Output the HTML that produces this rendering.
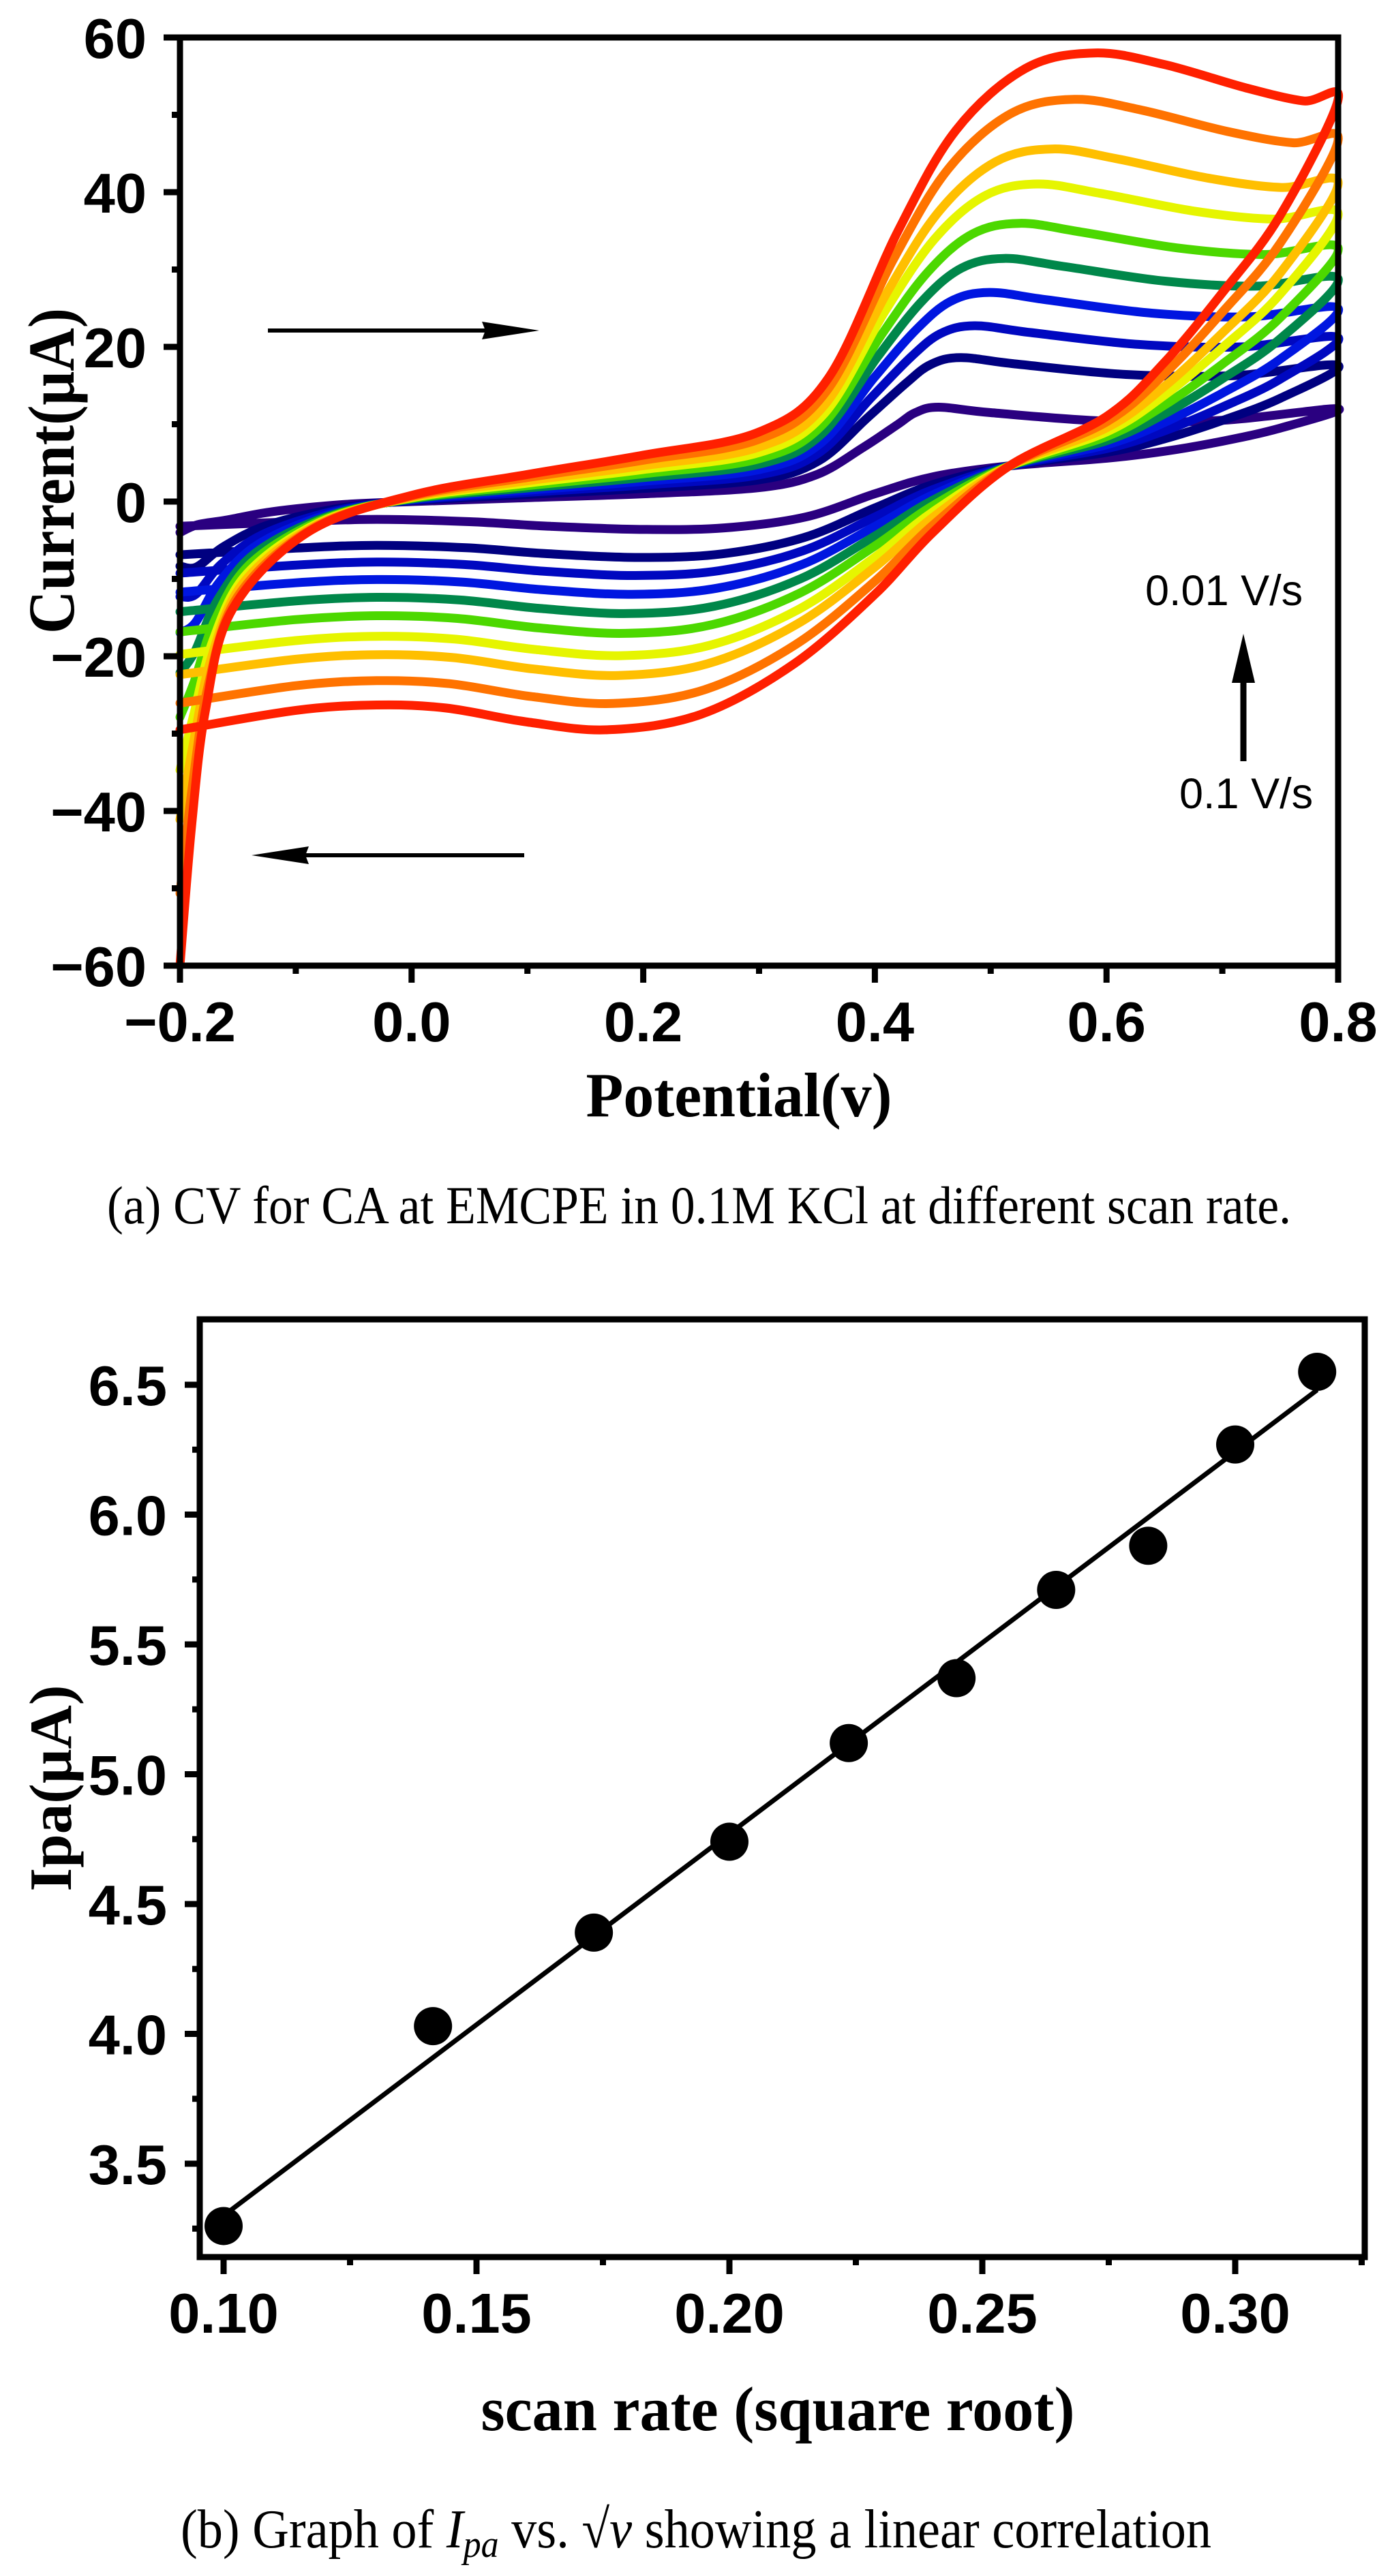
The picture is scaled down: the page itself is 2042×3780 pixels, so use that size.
<!DOCTYPE html>
<html><head><meta charset="utf-8"><style>
html,body{margin:0;padding:0;background:#fff;}
svg{display:block;}
</style></head><body>
<svg id="s" xmlns="http://www.w3.org/2000/svg" width="2042" height="3780" viewBox="0 0 2042 3780">
<rect width="2042" height="3780" fill="#fff"/>
<g id="curves" fill="none" stroke-width="13" stroke-linejoin="round" stroke-linecap="round"></g>
<g id="axA" stroke="#000" stroke-width="9" fill="none"></g>
<g id="lblA" font-family="Liberation Sans, Arial, sans-serif" font-weight="bold" font-size="83" fill="#000"></g>

<!-- arrows plot a -->
<g fill="#000" stroke="#000">
<line x1="393" y1="485" x2="720" y2="485" stroke-width="6"/>
<polygon points="791,485 707,472 712,485 707,498" stroke="none"/>
<line x1="769" y1="1255" x2="440" y2="1255" stroke-width="6"/>
<polygon points="369,1255 453,1242 448,1255 453,1268" stroke="none"/>
<line x1="1824" y1="1117" x2="1824" y2="995" stroke-width="9"/>
<polygon points="1824,930 1807,1002 1841,1002" stroke="none"/>
</g>
<g font-family="Liberation Sans, Arial, sans-serif" font-size="63" fill="#000">
<text x="1680" y="888">0.01 V/s</text>
<text x="1730" y="1186">0.1 V/s</text>
</g>
<text x="1084" y="1638" text-anchor="middle" font-family="Liberation Serif, serif" font-weight="bold" font-size="92" textLength="449" lengthAdjust="spacingAndGlyphs">Potential(v)</text>
<text transform="translate(108,691) rotate(-90)" text-anchor="middle" font-family="Liberation Serif, serif" font-weight="bold" font-size="96" textLength="478" lengthAdjust="spacingAndGlyphs">Current(μA)</text>
<text x="157" y="1795" font-family="Liberation Serif, serif" font-size="78" textLength="1737" lengthAdjust="spacingAndGlyphs">(a)  CV for CA at EMCPE in 0.1M KCl at different scan rate.</text>

<!-- plot b -->
<g id="axB" stroke="#000" stroke-width="9" fill="none"></g>
<g id="lblB" font-family="Liberation Sans, Arial, sans-serif" font-weight="bold" font-size="83" fill="#000"></g>
<g id="dataB"></g>
<text x="1141" y="3566" text-anchor="middle" font-family="Liberation Serif, serif" font-weight="bold" font-size="92" textLength="871" lengthAdjust="spacingAndGlyphs">scan rate (square root)</text>
<text transform="translate(104,2624) rotate(-90)" text-anchor="middle" font-family="Liberation Serif, serif" font-weight="bold" font-size="88" textLength="303" lengthAdjust="spacingAndGlyphs">Ipa(μA)</text>
<text x="265" y="3738" font-family="Liberation Serif, serif" font-size="80" textLength="1512" lengthAdjust="spacingAndGlyphs">(b)  Graph of <tspan font-style="italic">I</tspan><tspan font-style="italic" font-size="56" dy="14">pa</tspan><tspan dy="-14"> vs. √</tspan><tspan font-style="italic">ν</tspan> showing a linear correlation</text>
</svg>
<script>
(function(){
var NS="http://www.w3.org/2000/svg";
function el(p,t,a,txt){var e=document.createElementNS(NS,t);for(var k in a)e.setAttribute(k,a[k]);if(txt!=null)e.textContent=txt;p.appendChild(e);return e;}
// Plot A mapping
function ax(v){return 264+(v+0.2)*1699;}
function ay(i){return 55+(60-i)*11.35;}
var P=[[-0.2,-3.2],[-0.185,-3],[-0.16,-2.4],[-0.12,-1.3],[-0.06,-0.4],[0,0],[0.1,0.5],[0.2,1],[0.3,1.8],[0.35,3.5],[0.39,7],[0.42,10],[0.435,11.5],[0.455,12.2],[0.5,11.5],[0.6,10.4],[0.7,10.5],[0.8,12],
 [0.75,9.5],[0.7,7.8],[0.65,6.5],[0.6,5.6],[0.515,4.6],[0.45,3.2],[0.4,1],[0.34,-2],[0.27,-3.4],[0.2,-3.6],[0.12,-3.2],[0.05,-2.6],[-0.03,-2.3],[-0.1,-2.6],[-0.2,-3.2]];
var R=[[-0.2,-60],[-0.19,-42],[-0.178,-27],[-0.155,-14],[-0.09,-4],[0,0.8],[0.1,3.5],[0.2,6],[0.3,9],[0.36,16],[0.42,35],[0.47,48],[0.53,56],[0.59,58],[0.65,56.5],[0.72,53.5],[0.77,51.8],[0.8,52],
 [0.75,37],[0.7,27],[0.65,18],[0.6,11],[0.515,4.5],[0.45,-4],[0.4,-12],[0.33,-21],[0.25,-27.5],[0.17,-29.5],[0.1,-28.5],[0.03,-26.7],[-0.03,-26.3],[-0.1,-27],[-0.2,-29.5]];
var cols=['#2a0080','#000080','#0008c0','#0016e0','#00874a','#4cd800','#e6f500','#ffbf00','#ff7300','#ff2000'];
var W=[0,0.14,0.23,0.324,0.42,0.519,0.63,0.729,0.869,1];
function path(pts){
 var d="M"+pts[0][0].toFixed(1)+","+pts[0][1].toFixed(1);
 for(var i=0;i<pts.length-1;i++){
  var p0=pts[i-1]||pts[i],p1=pts[i],p2=pts[i+1],p3=pts[i+2]||p2;
  var c1=[p1[0]+(p2[0]-p0[0])/6,p1[1]+(p2[1]-p0[1])/6];
  var c2=[p2[0]-(p3[0]-p1[0])/6,p2[1]-(p3[1]-p1[1])/6];
  d+=" C"+c1[0].toFixed(1)+","+c1[1].toFixed(1)+" "+c2[0].toFixed(1)+","+c2[1].toFixed(1)+" "+p2[0].toFixed(1)+","+p2[1].toFixed(1);
 }
 return d;
}
var cg=document.getElementById('curves');
for(var k=0;k<10;k++){
 var w=W[k],pts=[];
 for(var j=0;j<P.length;j++){
  var v=P[j][0]+(R[j][0]-P[j][0])*w, c=P[j][1]+(R[j][1]-P[j][1])*w;
  if(j==0){c=-4+(-60+4)*Math.pow(w,1.3);}
  pts.push([ax(v),ay(c)]);
 }
 el(cg,'path',{d:path(pts),stroke:cols[k]});
}
// axes A
var g=document.getElementById('axA'),L=document.getElementById('lblA');
el(g,'rect',{x:264,y:55,width:1699,height:1362});
for(var i=-60;i<=60;i+=10){
 var y=ay(i),maj=(i%20==0);
 el(g,'line',{x1:264,y1:y,x2:264-(maj?24:12),y2:y});
 if(maj) el(L,'text',{x:215,y:y+30,'text-anchor':'end'},(i<0?'\u2212':'')+Math.abs(i));
}
for(var i=0;i<=10;i++){
 var v=-0.2+i*0.1,x=ax(v),maj=(i%2==0);
 el(g,'line',{x1:x,y1:1417,x2:x,y2:1417+(maj?25:12)});
 if(maj) el(L,'text',{x:x,y:1528,'text-anchor':'middle'},(v<-0.01?'\u2212':'')+Math.abs(v).toFixed(1));
}
// Plot B
function bx(v){return 328+(v-0.1)*7420;}
function by(v){return 3175-(v-3.5)*381;}
var gb=document.getElementById('axB'),LB=document.getElementById('lblB'),DB=document.getElementById('dataB');
el(gb,'rect',{x:293,y:1936,width:1709,height:1376});
for(var i=0;i<=13;i++){
 var v=3.25+i*0.25;var y=by(v);if(y<1940)continue;
 var maj=(Math.abs((v*2)-Math.round(v*2))<1e-6);
 el(gb,'line',{x1:293,y1:y,x2:293-(maj?22:11),y2:y});
 if(maj) el(LB,'text',{x:245,y:y+30,'text-anchor':'end'},v.toFixed(1));
}
for(var i=0;i<=9;i++){
 var v=0.1+i*0.025,x=bx(v);if(x>2000)continue;var maj=(i%2==0);
 el(gb,'line',{x1:x,y1:3312,x2:x,y2:3312+(maj?25:12)});
 if(maj) el(LB,'text',{x:x,y:3423,'text-anchor':'middle'},v.toFixed(2));
}
el(DB,'line',{x1:bx(0.1),y1:by(3.30),x2:bx(0.3162),y2:by(6.48),stroke:'#000','stroke-width':7});
var pts=[[0.1,3.26],[0.1414,4.03],[0.1732,4.39],[0.2,4.74],[0.2236,5.12],[0.2449,5.37],[0.2646,5.71],[0.2828,5.88],[0.3,6.27],[0.3162,6.55]];
pts.forEach(function(p){el(DB,'circle',{cx:bx(p[0]),cy:by(p[1]),r:28,fill:'#000'});});
})();
</script>
</body></html>
